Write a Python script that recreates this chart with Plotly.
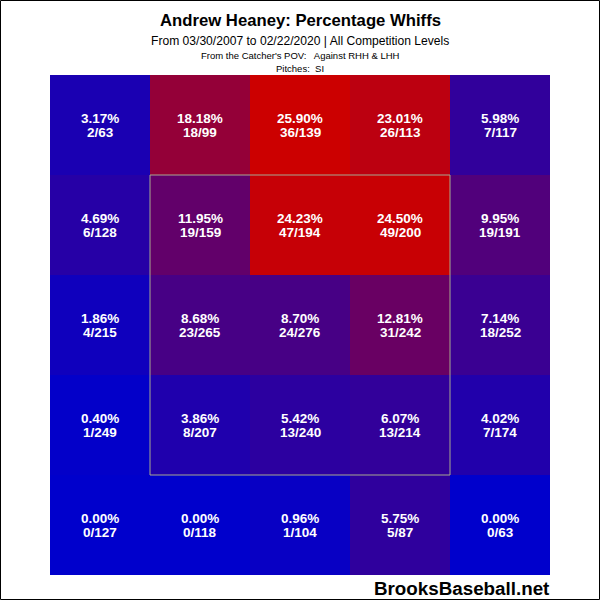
import plotly.graph_objects as go

# rows top to bottom, columns left to right (catcher's POV)
pct = [
    [3.17, 18.18, 25.90, 23.01, 5.98],
    [4.69, 11.95, 24.23, 24.50, 9.95],
    [1.86, 8.68, 8.70, 12.81, 7.14],
    [0.40, 3.86, 5.42, 6.07, 4.02],
    [0.00, 0.00, 0.96, 5.75, 0.00],
]
whiffs = [
    [2, 18, 36, 26, 7],
    [6, 19, 47, 49, 19],
    [4, 23, 24, 31, 18],
    [1, 8, 13, 13, 7],
    [0, 0, 1, 5, 0],
]
pitches = [
    [63, 99, 139, 113, 117],
    [128, 159, 194, 200, 191],
    [215, 265, 276, 242, 252],
    [249, 207, 240, 214, 174],
    [127, 118, 104, 87, 63],
]

xs = [0.5, 1.5, 2.5, 3.5, 4.5]
ys = [4.5, 3.5, 2.5, 1.5, 0.5]

fig = go.Figure(go.Heatmap(
    z=pct, x=xs, y=ys,
    colorscale=[[0, "#0000CC"], [1, "#CC0000"]], zmin=0, zmax=25,
    showscale=False, hoverinfo="skip", xgap=0, ygap=0,
))

font = "Liberation Sans, Arial"
cell_font = dict(family=font, size=13.5, color="white")
for r in range(5):
    for c in range(5):
        fig.add_annotation(x=xs[c], y=ys[r], yshift=7, showarrow=False,
                           text=f"<b>{pct[r][c]:.2f}%</b>", font=cell_font,
                           xanchor="center", yanchor="middle")
        fig.add_annotation(x=xs[c], y=ys[r], yshift=-7, showarrow=False,
                           text=f"<b>{whiffs[r][c]}/{pitches[r][c]}</b>", font=cell_font,
                           xanchor="center", yanchor="middle")

fig.add_shape(type="rect", x0=1, x1=4, y0=1, y1=4, xref="x", yref="y",
              line=dict(color="#A8A890", width=1))
# outer border of the picture
fig.add_shape(type="rect", xref="paper", yref="paper",
              x0=-49.5 / 500, x1=549.5 / 500, y0=-24.5 / 500, y1=574.5 / 500,
              line=dict(color="black", width=1))

fig.update_xaxes(range=[0, 5], visible=False, fixedrange=True)
fig.update_yaxes(range=[0, 5], visible=False, fixedrange=True)

anns = [
    dict(text="<b>Andrew Heaney: Percentage Whiffs</b>", y=21, size=16.7),
    dict(text="From 03/30/2007 to 02/22/2020 | All Competition Levels", y=41, size=12.1),
    dict(text="From the Catcher's POV:   Against RHH & LHH", y=56, size=9.5),
    dict(text="Pitches:  SI", y=68.5, size=9.5),
]
for a in anns:
    fig.add_annotation(text=a["text"], xref="paper", yref="paper", x=0.5,
                       y=(575 - a["y"]) / 500, xanchor="center", yanchor="middle",
                       showarrow=False, font=dict(family=font, size=a["size"], color="black"))
fig.add_annotation(text="<b>BrooksBaseball.net</b>", xref="paper", yref="paper",
                   x=1.004, y=(575 - 588) / 500, xanchor="right", yanchor="middle",
                   showarrow=False, font=dict(family=font, size=18.8, color="black"))

fig.update_layout(width=600, height=600, margin=dict(l=50, r=50, t=75, b=25),
                  paper_bgcolor="white", plot_bgcolor="white")
fig.write_html("out.html", config={"displayModeBar": False},
               post_script="document.body.style.margin='0';")
